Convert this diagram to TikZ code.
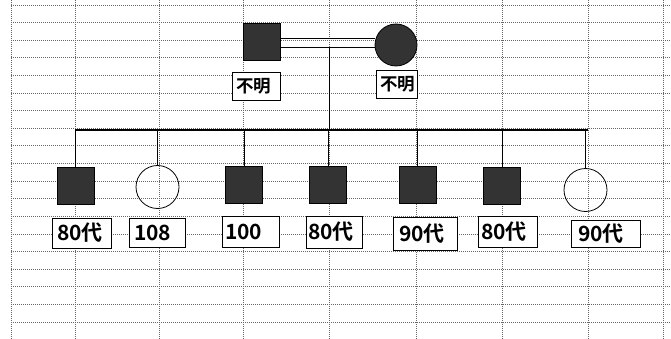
\documentclass[tikz,border=0pt]{standalone}
\usepackage{fontspec}
\setmainfont{Noto Sans CJK JP}[BoldFont={Noto Sans CJK JP Bold}]
\begin{document}
\begin{tikzpicture}[x=1pt,y=-1pt,
  gridline/.style={draw=black!60,line width=0.6pt,dash pattern=on 1pt off 1pt},
  sq/.style={draw=black,fill=black!80,line width=0.8pt,minimum size=37pt,inner sep=0pt,rectangle},
  circf/.style={draw=black,fill=black!80,line width=0.8pt,circle,minimum size=42pt,inner sep=0pt},
  circo/.style={draw=black,line width=0.8pt,circle,minimum size=43pt,inner sep=0pt},
  lab/.style 2 args={draw=black,fill=white,line width=0.7pt,inner ysep=0pt,inner xsep=5pt,
    text width=#1pt-10pt,align=left,minimum height=#2pt,
    font=\fontsize{21}{23}\selectfont\bfseries},
  plab/.style={font=\fontsize{17.5}{20}\selectfont\bfseries},
  link/.style={draw=black,line width=0.8pt},
  bar/.style={draw=black,line width=1.8pt}]
\useasboundingbox (0,0) rectangle (671,339);
\fill[white] (0,0) rectangle (671,339);
% grid
\foreach \gx in {11,75,159,243,329,416,502,588,663}
  \draw[gridline] (\gx,0) -- (\gx,339);
\foreach \gy in {5,22.6,40.2,57.8,75.4,93,110.6,128.2,145.8,163.4,181,198.6,216.2,233.8,251.4,269,286.6,304.2,321.8}
  \draw[gridline] (11,\gy) -- (671,\gy);
% parents
\node[sq] (f) at (262,41.5) {};
\node[circf] (m) at (396,45) {};
\node[lab={48}{28},plab,inner xsep=4pt,text width=40pt] (fl) at (256,86) {不明};
\node[lab={41}{28},plab,inner xsep=4pt,text width=33pt] (ml) at (396.5,84) {不明};
\draw[link] ([yshift=3.5pt]f.east) -- ([yshift=3.5pt]f.east -| m.west);
\draw[link] ([yshift=-5.5pt]f.east) -- ([yshift=-5.5pt]f.east -| m.west);
\coordinate (mc) at (329,47);
\coordinate (b1) at (75,130);
\coordinate (b7) at (588,130);
\draw[link] (mc) -- (mc |- b1);
\draw[bar] (b1) -- (b7);
% children
\node[sq] (c1) at (75.5,185.5) {};
\node[circo] (c2) at (157.5,187) {};
\node[sq] (c3) at (244,184.5) {};
\node[sq] (c4) at (328,184.5) {};
\node[sq] (c5) at (417.5,184.5) {};
\node[sq] (c6) at (502,185.5) {};
\node[circo] (c7) at (585.5,190) {};
\foreach \c in {c1,c2,c3,c4,c5,c6,c7}
  \draw[link] (\c.north |- b1) -- (\c.north);
% labels
\node[lab={59}{30}] (l1) at (81.5,233) {80代};
\node[lab={56}{29}] (l2) at (157,232.5) {108};
\node[lab={57}{31},inner xsep=3pt,text width=51pt] (l3) at (250.5,231.5) {100};
\node[lab={56}{32},inner xsep=2pt,text width=52pt] (l4) at (334,232) {80代};
\node[lab={64}{33},inner xsep=6pt,text width=52pt] (l5) at (425,233.5) {90代};
\node[lab={59}{31},inner xsep=3pt,text width=53pt] (l6) at (507.5,231.5) {80代};
\node[lab={69}{27},inner xsep=7pt,text width=55pt] (l7) at (605.5,233.5) {90代};
\end{tikzpicture}
\end{document}
